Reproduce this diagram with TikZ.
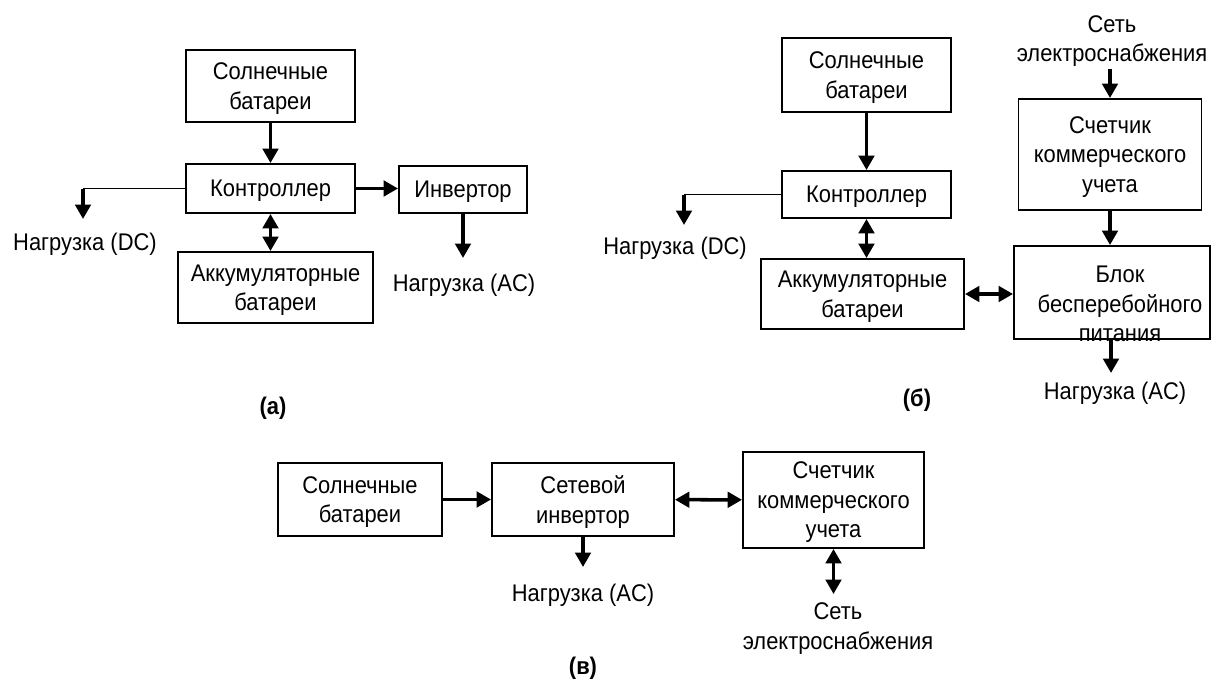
\documentclass[tikz,border=0pt]{standalone}
\usepackage{fontspec}
\setsansfont{Liberation Sans}[FakeStretch=0.91]
\usetikzlibrary{positioning}
\usetikzlibrary{arrows.meta}

\begin{document}
\begin{tikzpicture}[>={Triangle[length=2.9mm,width=3.1mm]},
  blok/.style={draw,line width=1.1pt,align=center,inner sep=0pt,text depth=-0.08cm},
  tekst/.style={align=center,inner sep=1pt},
  pil/.style={->,line width=2pt},
  dpil/.style={<->,line width=2pt},
  tynd/.style={line width=1.1pt}] \sffamily \fontsize{13.7}{16.8}\selectfont

\useasboundingbox (0,0) rectangle (24.22,-13.74);

% (a) autonomous system
\node[blok,minimum width=3.38cm,minimum height=1.44cm] (solA) at (5.41,-1.72) {Солнечные\\батареи};
\node[blok,minimum width=3.38cm,minimum height=0.98cm] (ctrlA) at (5.41,-3.77) {Контроллер};
\node[blok,minimum width=2.56cm,minimum height=0.94cm] (invA) at (9.26,-3.79) {Инвертор};
\node[blok,minimum width=3.90cm,minimum height=1.42cm] (accA) at (5.51,-5.75) {Аккумуляторные\\батареи};

\node[tekst] (dcA) at (1.70,-4.88) {Нагрузка (DC)};
\node[tekst] (acA) at (9.28,-5.70) {Нагрузка (AC)};
\node[tekst] (labA) at (5.46,-8.16) {\textbf{(а)}};

\coordinate (dcAend) at (1.66,-4.38);
\coordinate (acAend) at (9.26,-5.16);

\draw[pil] (solA) -- (ctrlA);
\draw[pil] (ctrlA.east) -- (ctrlA.east -| invA.west);
\draw[dpil] (ctrlA.south) -- (ctrlA.south |- accA.north);
\draw[tynd] (ctrlA.west) -- (ctrlA.west -| dcAend);
\draw[pil] (ctrlA.west -| dcAend) -- (dcAend);
\draw[pil] (invA.south) -- (acAend);

% (b) with grid backup
\node[blok,minimum width=3.38cm,minimum height=1.48cm] (solB) at (17.33,-1.50) {Солнечные\\батареи};
\node[blok,minimum width=3.38cm,minimum height=0.94cm] (ctrlB) at (17.33,-3.89) {Контроллер};
\node[blok,minimum width=4.06cm,minimum height=1.40cm] (accB) at (17.25,-5.88) {Аккумуляторные\\батареи};
\node[blok,minimum width=3.66cm,minimum height=2.22cm] (meterB) at (22.20,-3.09) {Счетчик\\коммерческого\\учета};
\node[blok,minimum width=3.92cm,minimum height=1.86cm] (upsB) at (22.24,-5.85) {};
\node[tekst] (upsBtxt) at (22.40,-6.08) {Блок\\бесперебойного\\питания};

\node[tekst] (gridB) at (22.24,-0.82) {Сеть\\электроснабжения};
\node[tekst] (dcB) at (13.50,-4.96) {Нагрузка (DC)};
\node[tekst] (acB) at (22.30,-7.86) {Нагрузка (AC)};
\node[tekst] (labB) at (18.34,-8.00) {\textbf{(б)}};

\coordinate (dcBend) at (13.68,-4.50);
\coordinate (acBend) at (22.22,-7.46);

\draw[pil] (solB) -- (ctrlB);
\draw[dpil] (ctrlB.south) -- (ctrlB.south |- accB.north);
\draw[tynd] (ctrlB.west) -- (ctrlB.west -| dcBend);
\draw[pil] (ctrlB.west -| dcBend) -- (dcBend);
\draw[dpil] (accB.east) -- (accB.east -| upsB.west);
\draw[pil] (meterB.north |- gridB.south) -- (meterB.north);
\draw[pil] (meterB.south) -- (meterB.south |- upsB.north);
\draw[pil] (upsB.south -| acBend) -- (acBend);

% (c) grid-tied
\node[blok,minimum width=3.28cm,minimum height=1.46cm] (solC) at (7.20,-9.99) {Солнечные\\батареи};
\node[blok,minimum width=3.64cm,minimum height=1.46cm] (invC) at (11.66,-9.99) {Сетевой\\инвертор};
\node[blok,minimum width=3.62cm,minimum height=1.92cm] (meterC) at (16.67,-10.00) {Счетчик\\коммерческого\\учета};

\node[tekst] (acC) at (11.66,-11.90) {Нагрузка (AC)};
\node[tekst] (gridC) at (16.76,-12.57) {Сеть\\электроснабжения};
\node[tekst] (labC) at (11.66,-13.36) {\textbf{(в)}};

\coordinate (acCend) at (11.66,-11.34);
\coordinate (gridCend) at (16.67,-11.88);

\draw[pil] (solC) -- (invC);
\draw[dpil] (invC) -- (meterC);
\draw[pil] (invC.south) -- (acCend);
\draw[dpil] (meterC.south) -- (gridCend);

\end{tikzpicture}
\end{document}
